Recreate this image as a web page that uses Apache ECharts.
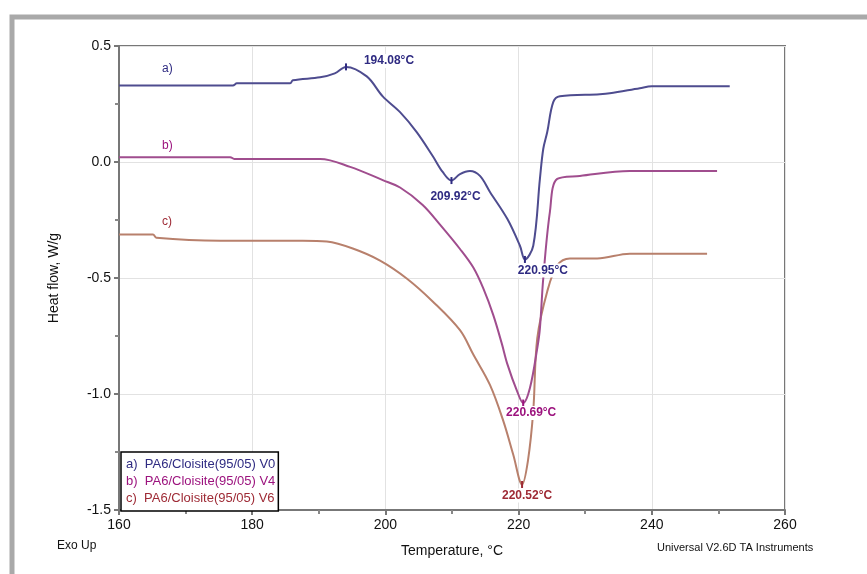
<!DOCTYPE html>
<html>
<head>
<meta charset="utf-8">
<script src="https://cdn.jsdelivr.net/npm/echarts@6/dist/echarts.min.js"></script>
<style>
  html, body { margin: 0; padding: 0; background: #fff; }
  #main { width: 867px; height: 574px; }
</style>
</head>
<body>
<div id="main"></div>
<script>
// DSC curves: [temperature °C, heat flow W/g]
var curveA = [[160,0.330],[177.1,0.330],[177.7,0.339],[185.7,0.339],[186.1,0.352],[190.2,0.365],[192.4,0.382],
  [194.08,0.410],[197.2,0.369],[199.6,0.283],[202.2,0.215],[204.7,0.129],[207.1,0.026],[208.6,-0.043],[209.92,-0.080],
  [211.2,-0.052],[212.7,-0.039],[214.2,-0.060],[215.7,-0.129],[218.3,-0.245],[220.2,-0.361],[220.95,-0.420],
  [222.2,-0.361],[223.2,-0.073],[223.7,0.056],[224.3,0.129],[225.2,0.258],[226.2,0.283],[232.2,0.292],
  [233.7,0.296],[238.2,0.318],[240,0.326],[251.7,0.326]];
var curveB = [[160,0.021],[176.7,0.021],[177.3,0.013],[190.2,0.013],[194.7,-0.021],[199.6,-0.078],[202.2,-0.110],
  [205.6,-0.185],[208.2,-0.270],[211.2,-0.375],[213.2,-0.455],[214.7,-0.545],[216.2,-0.660],[217.5,-0.785],
  [218.3,-0.870],[219.8,-0.990],[220.69,-1.039],[221.7,-0.974],[222.8,-0.803],[223.2,-0.717],[223.7,-0.502],
  [224.7,-0.215],[225.8,-0.073],[229.2,-0.060],[236.7,-0.039],[249.8,-0.039]];
var curveC = [[160,-0.313],[165.1,-0.313],[165.6,-0.326],[175.2,-0.339],[187.6,-0.339],[191.2,-0.343],[195.1,-0.373],
  [199.2,-0.425],[203.2,-0.502],[207.1,-0.601],[211.2,-0.725],[213.2,-0.830],[215.7,-0.961],[217.7,-1.116],
  [219.2,-1.262],[220.52,-1.390],[221.4,-1.288],[222.2,-1.073],[222.8,-0.760],[224.3,-0.558],[225.8,-0.446],
  [227.7,-0.416],[231.8,-0.416],[236.7,-0.395],[240,-0.395],[248.3,-0.395]];

var names = ['a)  PA6/Cloisite(95/05) V0', 'b)  PA6/Cloisite(95/05) V4', 'c)  PA6/Cloisite(95/05) V6'];
var peaksA = [[194.08, 0.410], [209.92, -0.080], [220.95, -0.420]];
var peaksB = [[220.69, -1.039]];
var peaksC = [[220.52, -1.390]];
var xTicks = [160, 180, 200, 220, 240, 260];
var yTicks = [-1.5, -1.0, -0.5, 0.0, 0.5];

var lineColors = ['#4e4c8f', '#a04d8e', '#b8806c'];
var textColors = ['#2f2b82', '#9c137e', '#9e2a35'];

var myChart = echarts.init(document.getElementById('main'));

function peakMarks(peaks, color, offsets) {
  return {
    symbol: 'rect',
    symbolSize: [2, 7],
    itemStyle: { color: color },
    label: {
      show: true,
      position: 'inside',
      formatter: '{b}',
      color: color,
      fontWeight: 'bold',
      fontSize: 12,
      fontFamily: 'Liberation Sans',
      backgroundColor: '#fff',
      padding: [1, 2]
    },
    data: peaks.map(function (p, i) {
      return { name: p[0].toFixed(2) + '°C', coord: p, label: { offset: offsets[i] } };
    })
  };
}

function curve(i, data, peaks, offsets) {
  return {
    name: names[i],
    type: 'line',
    data: data,
    showSymbol: false,
    smooth: 0.35,
    lineStyle: { color: lineColors[i], width: 2 },
    itemStyle: { color: lineColors[i] },
    markPoint: peakMarks(peaks, textColors[i], offsets),
    z: 3 - i
  };
}

var axisFont = { color: '#111', fontSize: 14, fontFamily: 'Liberation Sans' };

var option = {
  animation: false,
  grid: { left: 119, right: 82, top: 46, bottom: 64, show: true, borderColor: '#777', borderWidth: 2 },
  legend: {
    orient: 'vertical',
    left: 121,
    top: 452,
    icon: 'none',
    itemWidth: 0,
    itemHeight: 13,
    itemGap: 4,
    padding: [6, 3, 6, 0],
    borderColor: '#000',
    borderWidth: 1.5,
    backgroundColor: '#fff',
    textStyle: { fontSize: 13, fontFamily: 'Liberation Sans' },
    data: names.map(function (n, i) { return { name: n, textStyle: { color: textColors[i] } }; })
  },
  xAxis: {
    type: 'value',
    min: xTicks[0],
    max: xTicks[xTicks.length - 1],
    interval: 20,
    name: 'Temperature, °C',
    nameLocation: 'middle',
    nameGap: 34,
    nameTextStyle: axisFont,
    axisLine: { onZero: false, lineStyle: { color: '#777', width: 2 } },
    axisTick: { lineStyle: { color: '#777', width: 2 }, length: 5 },
    minorTick: { show: true, splitNumber: 2, length: 4, lineStyle: { color: '#888', width: 2 } },
    splitLine: { lineStyle: { color: '#e2e2e2' } },
    axisLabel: Object.assign({ margin: 8 }, axisFont)
  },
  yAxis: {
    type: 'value',
    min: yTicks[0],
    max: yTicks[yTicks.length - 1],
    interval: 0.5,
    name: 'Heat flow, W/g',
    nameLocation: 'middle',
    nameGap: 58,
    nameTextStyle: axisFont,
    axisLine: { onZero: false, lineStyle: { color: '#777', width: 2 } },
    axisTick: { lineStyle: { color: '#777', width: 2 }, length: 5 },
    minorTick: { show: true, splitNumber: 2, length: 4, lineStyle: { color: '#888', width: 2 } },
    splitLine: { lineStyle: { color: '#e2e2e2' } },
    axisLabel: Object.assign({ margin: 8, formatter: function (v) { return v.toFixed(1); } }, axisFont)
  },
  graphic: [
    { type: 'polyline', shape: { points: [[12, 574], [12, 17], [867, 17]] },
      style: { stroke: '#a9a9a9', lineWidth: 5, fill: null } },
    { type: 'text', left: 162, top: 63, style: { text: 'a)', fill: textColors[0], fontSize: 12, fontFamily: 'Liberation Sans' } },
    { type: 'text', left: 162, top: 140, style: { text: 'b)', fill: textColors[1], fontSize: 12, fontFamily: 'Liberation Sans' } },
    { type: 'text', left: 162, top: 216, style: { text: 'c)', fill: textColors[2], fontSize: 12, fontFamily: 'Liberation Sans' } },
    { type: 'text', left: 57, top: 540, style: { text: 'Exo Up', fill: '#111', fontSize: 12, fontFamily: 'Liberation Sans' } },
    { type: 'text', left: 657, top: 542, style: { text: 'Universal V2.6D TA Instruments', fill: '#111', fontSize: 11, fontFamily: 'Liberation Sans' } }
  ],
  series: [
    curve(0, curveA, peaksA, [[43, -6], [4, 16], [18, 11]]),
    curve(1, curveB, peaksB, [[8, 10]]),
    curve(2, curveC, peaksC, [[5, 11]])
  ]
};

myChart.setOption(option);
</script>
</body>
</html>
